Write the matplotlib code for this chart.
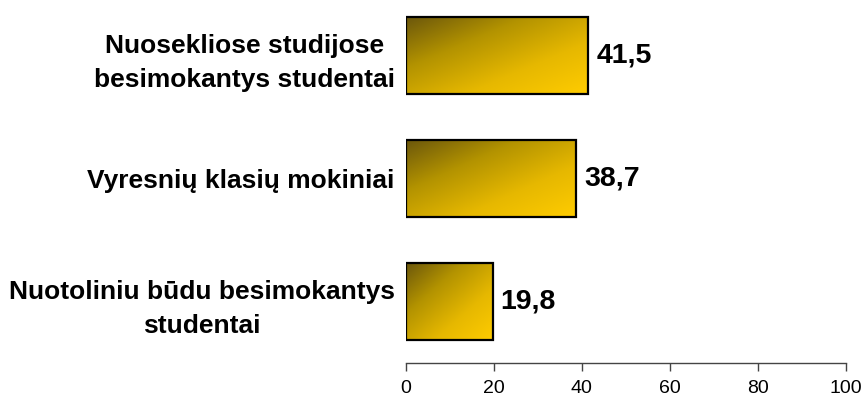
import numpy as np
import matplotlib
matplotlib.use("Agg")
import matplotlib.pyplot as plt
from matplotlib.colors import LinearSegmentedColormap

categories = ["Nuotoliniu būdu besimokantys\nstudentai",
              "Vyresnių klasių mokiniai",
              "Nuosekliose studijose\nbesimokantys studentai"]
values = [19.8, 38.7, 41.5]
value_labels = ["19,8", "38,7", "41,5"]
xticks = [0, 20, 40, 60, 80, 100]

plt.rcParams['font.family'] = ['Liberation Sans', 'DejaVu Sans']

fig = plt.figure(figsize=(8.64, 4.01), dpi=100)
ax = fig.add_axes([405.7 / 864, (401 - 363) / 401, 440 / 864, (363 + 6) / 401])

cmap = LinearSegmentedColormap.from_list(
    "gold", ["#6a560c", "#b39300", "#e6b800", "#ffcc00"])

# diagonal gradient: dark top-left to gold bottom-right
gx, gy = np.meshgrid(np.linspace(0, 1, 200), np.linspace(0, 1, 100))
grad = (gx + gy) / 2.0

height = 0.63
ypos = np.arange(len(categories))
for y, v in zip(ypos, values):
    ax.imshow(grad, cmap=cmap, aspect='auto', origin='upper',
              extent=(0, v, y - height / 2, y + height / 2), zorder=2,
              interpolation='bilinear')
bars = ax.barh(ypos, values, height=height, facecolor='none',
               edgecolor='black', linewidth=1.6, zorder=3)

for y, v, lab in zip(ypos, values, value_labels):
    ax.text(v + 1.8, y, lab, va='center', ha='left', fontsize=20.5,
            fontweight='bold')

ax.set_xlim(0, 100)
ax.set_ylim(-0.5, 2.5)
ax.set_xticks(xticks)
ax.set_xticklabels([str(t) for t in xticks], fontsize=14)
ax.set_yticks(ypos)
ax.set_yticklabels(categories, fontsize=19, fontweight='bold',
                   multialignment='center', linespacing=1.55)
ax.tick_params(axis='y', length=0, pad=8)
ax.tick_params(axis='x', direction='out', length=6, width=1, color='#444444',
               pad=6)
for s in ['top', 'right', 'left']:
    ax.spines[s].set_visible(False)
ax.spines['bottom'].set_color('#444444')
ax.spines['bottom'].set_linewidth(1)

fig.savefig("out.png", dpi=100)
